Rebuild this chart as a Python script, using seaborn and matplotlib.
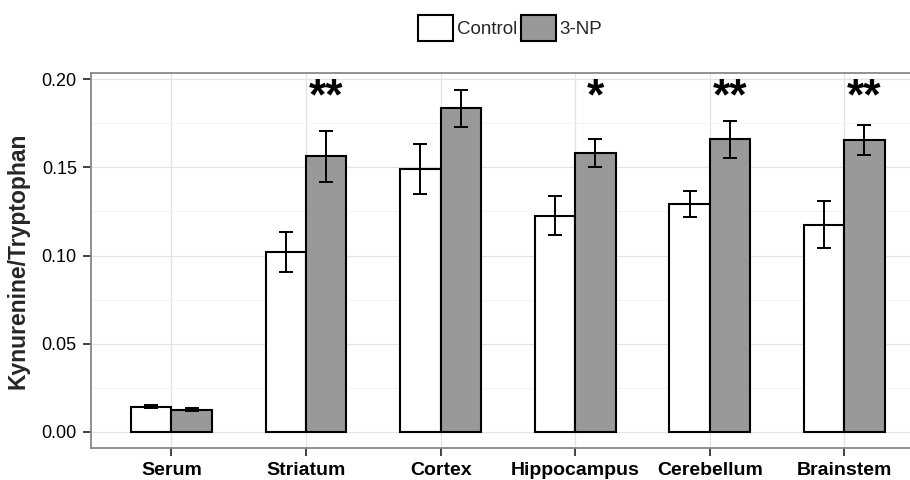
import numpy as np
import pandas as pd
import matplotlib
matplotlib.use("Agg")
import matplotlib.pyplot as plt
from matplotlib.ticker import MultipleLocator
import seaborn as sns

regions = ["Serum", "Striatum", "Cortex", "Hippocampus", "Cerebellum", "Brainstem"]
groups = ["Control", "3-NP"]
control_mean = [0.0141, 0.1020, 0.1490, 0.1226, 0.1293, 0.1175]
control_se = [0.0008, 0.0112, 0.0140, 0.0112, 0.0074, 0.0135]
np3_mean = [0.0124, 0.1563, 0.1835, 0.1582, 0.1660, 0.1656]
np3_se = [0.0008, 0.0144, 0.0105, 0.0080, 0.0104, 0.0085]
stars = ["", "**", "", "*", "**", "**"]

sns.set_theme(style="white")
plt.rcParams["font.family"] = ["Liberation Sans", "DejaVu Sans"]

df = pd.DataFrame({
    "Region": regions * 2,
    "Group": [groups[0]] * len(regions) + [groups[1]] * len(regions),
    "Value": control_mean + np3_mean,
})

fig = plt.figure(figsize=(9.1, 4.8), dpi=100)
ax = fig.add_axes([90.7 / 910, 31.7 / 480, (925 - 90.7) / 910, (448.3 - 73.3) / 480])

sns.barplot(data=df, x="Region", y="Value", hue="Group", order=regions,
            hue_order=groups, palette={"Control": "white", "3-NP": "#999999"},
            edgecolor="black", linewidth=1.5, width=0.6, gap=0, errorbar=None,
            saturation=1, ax=ax, zorder=3)

xpos = np.arange(len(regions))
off = 0.15
ax.errorbar(xpos - off, control_mean, yerr=control_se, fmt="none", ecolor="black",
            elinewidth=1.4, capsize=4.7, capthick=1.4, zorder=4)
ax.errorbar(xpos + off, np3_mean, yerr=np3_se, fmt="none", ecolor="black",
            elinewidth=1.4, capsize=4.7, capthick=1.4, zorder=4)

for i, s in enumerate(stars):
    if s:
        ax.text(xpos[i] + off, 0.1897, s, ha="center", va="center",
                fontsize=32, fontweight="bold", color="black", zorder=5)

ax.set_xlim(-0.6, 5.6)
ax.set_ylim(-0.0094, 0.2034)
ax.yaxis.set_minor_locator(MultipleLocator(0.025))
ax.set_yticks([0, 0.05, 0.10, 0.15, 0.20])
ax.set_yticklabels(["0.00", "0.05", "0.10", "0.15", "0.20"])

ax.grid(True, which="major", axis="both", color="#e3e3e3", linewidth=0.9, zorder=0)
ax.grid(True, which="minor", axis="y", color="#f2f2f2", linewidth=0.6, zorder=0)
ax.set_axisbelow(True)

for side in ["left", "top", "bottom", "right"]:
    ax.spines[side].set_color("#888888")
    ax.spines[side].set_linewidth(1.3)

ax.tick_params(axis="both", which="major", direction="out", length=6, width=1.3,
               color="#333333", labelsize=13, labelcolor="black", pad=4,
               bottom=True, left=True)
ax.tick_params(axis="y", which="minor", length=0)
for lab in ax.get_xticklabels():
    lab.set_fontweight("bold")
    lab.set_fontsize(14)

ax.set_xlabel("")
ax.set_ylabel("Kynurenine/Tryptophan", fontsize=16.5, fontweight="bold", labelpad=9)

handles, labels = ax.get_legend_handles_labels()
ax.get_legend().remove()
fig.legend(handles, labels, loc="center", ncol=2, bbox_to_anchor=(0.5604, 1 - 28 / 480),
           frameon=False, fontsize=13.5, handlelength=1.87, handleheight=1.8,
           handletextpad=0.2, columnspacing=0.2, borderaxespad=0)

fig.savefig("out.png", dpi=100)
